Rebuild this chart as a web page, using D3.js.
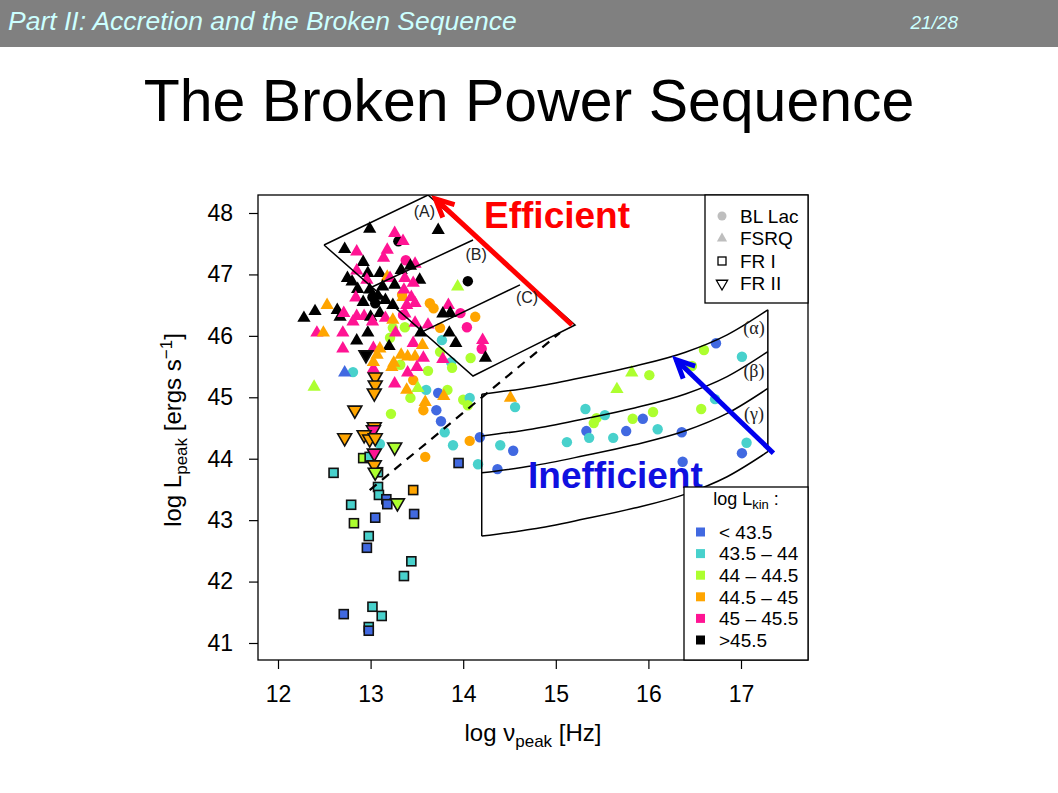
<!DOCTYPE html>
<html><head><meta charset="utf-8">
<script src="https://cdn.jsdelivr.net/npm/d3@7"></script>
<style>body{margin:0;background:#fff;} svg{display:block;font-family:"Liberation Sans",Arial,Helvetica,sans-serif;}</style>
</head><body><svg id="c" width="1058" height="793"></svg>
<script>
// ---------------- data ----------------
const headerTitle = "Part II: Accretion and the Broken Sequence";
const pageNum = "21/28";
const slideTitle = "The Broken Power Sequence";
const xTicks = [12, 13, 14, 15, 16, 17];
const yTicks = [41, 42, 43, 44, 45, 46, 47, 48];
const kinLabels = ["< 43.5", "43.5 \u2013 44", "44 \u2013 44.5", "44.5 \u2013 45", "45 \u2013 45.5", ">45.5"];
const kinColors = ["#4169E1", "#48D1CC", "#ADFF2F", "#FFA500", "#FF1493", "#000000"];
const typeLabels = ["BL Lac", "FSRQ", "FR I", "FR II"];

// [log nu_peak, log L_peak, kinetic-luminosity class]
const blLac = [
 [13.30,47.54,5],[14.05,46.89,5],[13.02,46.63,5],[13.05,46.53,5],[13.38,47.23,4],[13.64,46.53,3],
 [13.68,46.45,3],[14.13,46.31,3],[13.97,46.37,4],[14.04,46.14,4],[13.24,46.13,2],[13.37,46.14,2],
 [13.75,46.13,3],[13.77,45.93,1],[14.20,45.79,4],[13.75,45.74,2],[13.87,45.57,1],[14.08,45.64,2],
 [13.34,46.67,3],[13.35,46.34,4],[13.21,45.97,2],[13.32,45.53,2],[13.62,45.43,2],[13.46,45.28,3],
 [13.60,45.12,1],[13.73,45.07,0],[13.83,45.12,2],[13.43,44.99,2],[14.00,44.96,2],[14.07,44.99,1],
 [14.05,44.87,2],[13.71,44.79,0],[13.57,44.79,3],[13.22,44.73,2],[13.76,44.61,0],[13.80,44.43,1],
 [14.18,44.35,0],[14.07,44.29,3],[13.89,44.22,1],[14.40,44.22,1],[14.54,44.13,0],[13.10,44.24,1],
 [13.59,44.03,3],[14.16,43.91,1],[14.37,43.83,0],[14.56,44.84,1],[12.81,45.41,1],[13.88,45.48,2],
 [16.73,45.88,0],[16.60,45.77,2],[17.01,45.66,1],[16.47,45.51,2],[16.01,45.36,2],[15.32,44.81,1],
 [15.44,44.66,2],[15.41,44.58,2],[15.53,44.71,1],[16.05,44.76,2],[15.83,44.65,2],[15.94,44.65,0],
 [16.57,44.81,2],[16.72,44.97,1],[16.10,44.48,1],[15.33,44.45,0],[15.36,44.34,1],[15.76,44.45,0],
 [15.62,44.34,1],[16.36,44.43,0],[15.12,44.27,1],[17.06,44.26,1],[17.01,44.09,0],[16.37,43.95,0]
];
const fsrq = [
 [12.99,47.74,5],[13.73,47.72,5],[13.26,47.67,4],[13.35,47.54,4],[12.72,47.41,5],[12.85,47.37,4],
 [13.18,47.40,4],[13.14,47.27,4],[12.92,47.20,5],[13.48,47.17,4],[13.43,47.14,5],[13.33,47.07,5],
 [12.85,47.06,4],[12.97,47.02,5],[13.10,47.02,5],[12.75,46.94,5],[12.80,46.88,5],[12.96,46.91,4],
 [13.18,46.96,3],[13.21,46.94,4],[13.37,46.94,4],[13.53,46.91,5],[13.26,46.83,5],[13.13,46.80,5],
 [12.86,46.76,5],[12.99,46.75,5],[13.46,46.86,4],[13.35,46.63,3],[13.44,46.63,4],[13.48,46.53,4],
 [12.84,46.62,4],[13.24,46.50,5],[13.39,46.50,4],[13.84,46.50,4],[13.86,46.37,5],[13.78,46.36,5],
 [12.53,46.50,3],[12.40,46.40,5],[12.28,46.29,5],[12.64,46.42,5],[12.67,46.31,5],[12.71,46.37,4],
 [12.85,46.32,4],[12.93,46.32,4],[13.00,46.31,5],[13.10,46.37,5],[13.16,46.29,4],[13.24,46.26,3],
 [13.37,46.36,4],[13.48,46.21,4],[13.62,46.18,4],[13.54,46.05,5],[13.27,46.05,4],[12.42,46.05,4],
 [12.49,46.05,3],[12.70,46.05,4],[12.97,46.05,5],[12.85,45.92,5],[13.85,46.05,5],[14.21,45.93,4],
 [14.24,45.64,5],[13.92,45.88,5],[12.70,45.79,4],[13.03,45.80,4],[13.20,45.83,5],[13.10,45.79,3],
 [13.46,45.88,4],[13.56,45.85,3],[13.07,45.69,3],[13.40,45.66,3],[13.48,45.66,3],[13.57,45.64,4],
 [13.78,45.62,4],[13.23,45.49,3],[13.50,45.49,4],[13.03,45.46,4],[12.72,45.40,0],[13.40,45.40,4],
 [13.26,45.22,4],[13.39,45.12,3],[13.79,45.02,3],[13.59,44.92,3],[13.51,45.15,2],[12.39,45.17,2],
 [13.94,46.80,2],[14.51,44.99,3],[15.82,45.40,2],[15.66,45.13,2],[13.25,45.56,3],[13.03,45.57,3],
 [13.33,45.69,3],[12.81,46.23,4],[13.02,46.23,4],[13.08,46.65,5],[13.16,46.58,5],[12.92,46.55,5],
 [13.36,46.75,4]
];
const fr1 = [
 [12.60,43.77,1],[12.92,44.01,2],[12.99,44.03,1],[13.08,43.78,1],[13.95,43.93,0],[13.08,43.54,1],
 [13.46,43.49,3],[13.09,43.41,1],[13.17,43.34,0],[13.18,43.26,0],[12.79,43.25,1],[13.47,43.10,0],
 [13.05,43.04,0],[12.82,42.95,2],[12.98,42.74,1],[12.96,42.55,0],[13.44,42.33,1],[13.36,42.09,1],
 [13.02,41.59,1],[12.71,41.47,0],[13.12,41.44,1],[12.98,41.26,1],[12.98,41.20,0]
];
const fr2 = [
 [12.95,45.69,5],[13.05,45.33,3],[13.05,45.20,3],[13.04,45.07,3],[12.83,44.79,3],[13.04,44.52,3],
 [13.03,44.47,4],[12.72,44.34,3],[12.93,44.39,3],[12.99,44.32,3],[13.05,44.34,3],[13.26,44.19,2],
 [13.04,44.09,4],[13.04,43.90,3],[13.05,43.78,2],[13.29,43.28,2]
];

// "efficient" parallelogram (corners) and inner division lines, data units
const effOutline = [[12.497,47.479],[13.62,48.293],[15.208,46.177],[14.106,45.346]];
const effDividers = [[[13.015,46.795],[14.106,47.56]], [[13.561,46.068],[14.613,46.83]]];
const effLabels = [["(A)",13.58,48.03],["(B)",14.14,47.33],["(C)",14.69,46.63]];
// "inefficient" strips: common curve shape, offsets of each boundary
const stripX = [14.2, 14.75, 15.3, 15.85, 16.4, 16.85, 17.29];
const stripShape = [0, 0.114, 0.277, 0.456, 0.684, 0.967, 1.374];
const stripBase = [45.05, 44.37, 43.77, 42.74];
const stripLabels = [["(\u03b1)",17.14,46.13],["(\u03b2)",17.14,45.43],["(\u03b3)",17.14,44.74]];
const dashedLine = [[12.99,43.49],[15.045,46.05]];
const redArrow = [[15.175,46.177],[13.70,48.23]];
const blueArrow = [[17.35,44.09],[16.30,45.61]];

// ---------------- layout ----------------
const svg = d3.select("#c");
const L = 258, R = 808, T = 195, B = 660;
const x = d3.scaleLinear().domain([12,17]).range([278,741]);
const y = d3.scaleLinear().domain([41,48]).range([643,213]);

// header
svg.append("rect").attr("x",0).attr("y",0).attr("width",1058).attr("height",47).attr("fill","#808080");
svg.append("text").attr("x",8).attr("y",30).attr("font-size",26.5).attr("font-style","italic")
  .attr("fill","#CCFFFF").text(headerTitle);
svg.append("text").attr("x",958).attr("y",29).attr("font-size",19).attr("font-style","italic")
  .attr("text-anchor","end").attr("fill","#CCFFFF").text(pageNum);
svg.append("text").attr("x",529).attr("y",121).attr("font-size",59).attr("text-anchor","middle")
  .attr("fill","#000").text(slideTitle);

svg.append("defs").append("clipPath").attr("id","pc").append("rect")
  .attr("x",L).attr("y",T).attr("width",R-L).attr("height",B-T);
const g = svg.append("g").attr("clip-path","url(#pc)");

// points
const col = d => kinColors[d[2]];
g.selectAll(".bl").data(blLac).enter().append("circle")
  .attr("cx",d=>x(d[0])).attr("cy",d=>y(d[1])).attr("r",5.2).attr("fill",col);
const tri = d3.symbol().type(d3.symbolTriangle).size(76);
g.selectAll(".fs").data(fsrq).enter().append("path").attr("d",tri)
  .attr("transform",d=>`translate(${x(d[0])},${y(d[1])})`).attr("fill",col);
g.selectAll(".f1").data(fr1).enter().append("rect")
  .attr("x",d=>x(d[0])-4.5).attr("y",d=>y(d[1])-4.5).attr("width",9).attr("height",9)
  .attr("fill",col).attr("stroke","#111").attr("stroke-width",1.6);
const triD = d3.symbol().type(d3.symbolTriangle).size(84);
g.selectAll(".f2").data(fr2).enter().append("path").attr("d",triD)
  .attr("transform",d=>`translate(${x(d[0])},${y(d[1])}) rotate(180)`)
  .attr("fill",col).attr("stroke","#111").attr("stroke-width",1.6);

// regions
const line = d3.line().x(d=>x(d[0])).y(d=>y(d[1]));
g.append("path").attr("d",line([...effOutline, effOutline[0]])).attr("fill","none").attr("stroke","#000").attr("stroke-width",1.5);
effDividers.forEach(s=>g.append("path").attr("d",line(s)).attr("fill","none").attr("stroke","#000").attr("stroke-width",1.5));
const curve = d3.line().x(d=>x(d[0])).y(d=>y(d[1])).curve(d3.curveMonotoneX);
stripBase.forEach(b=>{
  const pts = stripX.map((v,i)=>[v, b+stripShape[i]]);
  g.append("path").attr("d",curve(pts)).attr("fill","none").attr("stroke","#000").attr("stroke-width",1.5);
});
const nS = stripX.length-1;
[[stripX[0],0],[stripX[nS],nS]].forEach(([xv,i])=>{
  g.append("path").attr("d",line([[xv,stripBase[0]+stripShape[i]],[xv,stripBase[stripBase.length-1]+stripShape[i]]]))
   .attr("fill","none").attr("stroke","#000").attr("stroke-width",1.5);
});
g.append("path").attr("d",line(dashedLine)).attr("fill","none").attr("stroke","#000")
  .attr("stroke-width",2.2).attr("stroke-dasharray","9,7");

// arrows
function arrow(a, color, w){
  const x0=x(a[0][0]), y0=y(a[0][1]), x1=x(a[1][0]), y1=y(a[1][1]);
  const ang=Math.atan2(y1-y0,x1-x0), h=20, sp=Math.PI/7;
  g.append("line").attr("x1",x0).attr("y1",y0).attr("x2",x1).attr("y2",y1)
   .attr("stroke",color).attr("stroke-width",w);
  g.append("path").attr("d",`M${x1-h*Math.cos(ang-sp)},${y1-h*Math.sin(ang-sp)}L${x1},${y1}L${x1-h*Math.cos(ang+sp)},${y1-h*Math.sin(ang+sp)}`)
   .attr("fill","none").attr("stroke",color).attr("stroke-width",w).attr("stroke-linejoin","miter");
}
arrow(redArrow,"#FF0000",5);
arrow(blueArrow,"#0000EE",5);

// region labels
effLabels.forEach(l=>{
  g.append("text").attr("x",x(l[1])).attr("y",y(l[2])).attr("dy","0.35em").attr("text-anchor","middle")
   .attr("font-size",16).attr("fill","#222").text(l[0]);
});
stripLabels.forEach(l=>{
  g.append("text").attr("x",x(l[1])).attr("y",y(l[2])).attr("dy","0.35em").attr("text-anchor","middle")
   .attr("font-size",18).attr("font-family","Liberation Serif, Times New Roman, serif").attr("fill","#222").text(l[0]);
});
svg.append("text").attr("x",x(14.225)).attr("y",y(47.76)).attr("font-size",37).attr("font-weight","bold")
  .attr("fill","#FF0000").text("Efficient");
svg.append("text").attr("x",x(14.70)).attr("y",y(43.52)).attr("font-size",37).attr("font-weight","bold")
  .attr("fill","#1010E0").text("Inefficient");

// box
svg.append("rect").attr("x",L).attr("y",T).attr("width",R-L).attr("height",B-T)
  .attr("fill","none").attr("stroke","#000").attr("stroke-width",1.3);

// axes
const xa = svg.append("g").attr("transform",`translate(0,${B})`)
  .call(d3.axisBottom(x).tickValues(xTicks).tickSize(9).tickSizeOuter(0).tickPadding(17).tickFormat(d3.format("d")));
const ya = svg.append("g").attr("transform",`translate(${L},0)`)
  .call(d3.axisLeft(y).tickValues(yTicks).tickSize(9).tickSizeOuter(0).tickPadding(16).tickFormat(d3.format("d")));
[xa,ya].forEach(a=>{
  a.select(".domain").remove();
  a.selectAll("line").attr("stroke","#000").attr("stroke-width",1.2);
  a.selectAll("text").attr("font-size",23).attr("fill","#000").attr("font-family","Liberation Sans, Arial, sans-serif");
});

// axis titles
const xt = svg.append("text").attr("x",533).attr("y",741).attr("text-anchor","middle").attr("font-size",24);
xt.append("tspan").text("log \u03bd");
xt.append("tspan").attr("dy",6).attr("font-size",17).text("peak");
xt.append("tspan").attr("dy",-6).text(" [Hz]");
const yt = svg.append("text").attr("transform","translate(181,430) rotate(-90)").attr("text-anchor","middle").attr("font-size",24);
yt.append("tspan").text("log L");
yt.append("tspan").attr("dy",6).attr("font-size",17).text("peak");
yt.append("tspan").attr("dy",-6).text(" [ergs s");
yt.append("tspan").attr("dy",-9).attr("font-size",17).text("\u22121");
yt.append("tspan").attr("dy",9).text("]");

// legend 1: source types
const l1 = svg.append("g");
l1.append("rect").attr("x",705).attr("y",T).attr("width",R-705).attr("height",108)
  .attr("fill","#fff").attr("stroke","#000").attr("stroke-width",1.3);
typeLabels.forEach((t,i)=>{
  const cy = 216 + i*22.5, cx = 722;
  if(i===0) l1.append("circle").attr("cx",cx).attr("cy",cy).attr("r",4.5).attr("fill","#BEBEBE");
  if(i===1) l1.append("path").attr("d",d3.symbol().type(d3.symbolTriangle).size(45)).attr("transform",`translate(${cx},${cy})`).attr("fill","#BEBEBE");
  if(i===2) l1.append("rect").attr("x",cx-4).attr("y",cy-4).attr("width",8).attr("height",8).attr("fill","none").attr("stroke","#000").attr("stroke-width",1.3);
  if(i===3) l1.append("path").attr("d",d3.symbol().type(d3.symbolTriangle).size(55)).attr("transform",`translate(${cx},${cy}) rotate(180)`).attr("fill","none").attr("stroke","#000").attr("stroke-width",1.3);
  l1.append("text").attr("x",740).attr("y",cy).attr("dy","0.36em").attr("font-size",19).text(t);
});

// legend 2: kinetic luminosity
const l2 = svg.append("g");
l2.append("rect").attr("x",684).attr("y",487).attr("width",R-684).attr("height",B-487)
  .attr("fill","#fff").attr("stroke","#000").attr("stroke-width",1.3);
const lt = l2.append("text").attr("x",746).attr("y",505).attr("text-anchor","middle").attr("font-size",18);
lt.append("tspan").text("log L");
lt.append("tspan").attr("dy",4).attr("font-size",13).text("kin");
lt.append("tspan").attr("dy",-4).text(" :");
kinLabels.forEach((t,i)=>{
  const cy = 532 + i*21.6;
  l2.append("rect").attr("x",696).attr("y",cy-4.5).attr("width",9).attr("height",9).attr("fill",kinColors[i]);
  l2.append("text").attr("x",719).attr("y",cy).attr("dy","0.36em").attr("font-size",19).text(t);
});
</script></body></html>
